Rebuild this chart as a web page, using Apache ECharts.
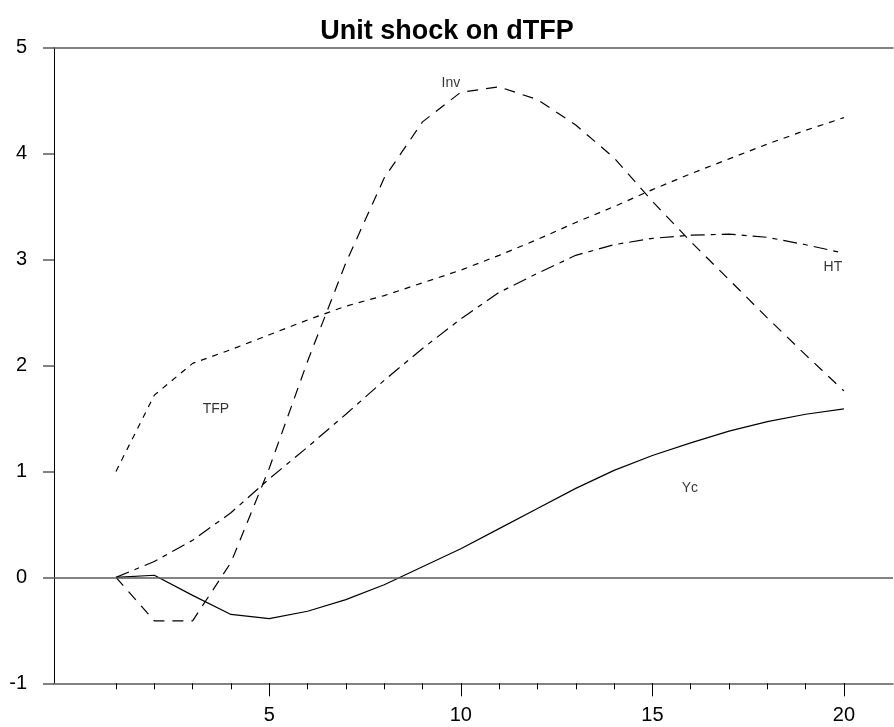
<!DOCTYPE html>
<html>
<head>
<meta charset="utf-8">
<script src="https://cdn.jsdelivr.net/npm/echarts@6/dist/echarts.min.js"></script>
<style>html,body{margin:0;padding:0;background:#fff}#c{width:894px;height:727px}</style>
</head>
<body>
<div id="c"></div>
<script>
// Horizon (periods)
var periods = [1,2,3,4,5,6,7,8,9,10,11,12,13,14,15,16,17,18,19,20];
// Responses
var tfp = [1.00,1.72,2.02,2.15,2.29,2.43,2.56,2.66,2.78,2.90,3.04,3.19,3.35,3.50,3.66,3.81,3.95,4.09,4.22,4.34];
var inv = [0.00,-0.41,-0.41,0.14,1.03,2.04,2.97,3.77,4.30,4.58,4.63,4.51,4.27,3.96,3.55,3.17,2.81,2.45,2.10,1.76];
var ht  = [0.00,0.15,0.35,0.61,0.93,1.23,1.54,1.86,2.16,2.44,2.69,2.87,3.04,3.14,3.20,3.23,3.24,3.21,3.14,3.06];
var yc  = [0.00,0.02,-0.17,-0.35,-0.39,-0.32,-0.21,-0.07,0.10,0.27,0.46,0.65,0.84,1.01,1.15,1.27,1.38,1.47,1.54,1.59];
// Series name labels and where they sit (data coordinates)
var labelNames = ['TFP','Inv','HT','Yc'];
var labelX = [3.61, 9.74, 19.71, 15.98];
var labelY = [1.59, 4.67, 2.93, 0.84];
// Axis ticks
var minorTicks = periods.slice();
var majorTicks = [5,10,15,20];
var yMin = -1, yMax = 5;

function pairs(vals){ return periods.map(function(p,i){ return [p, vals[i]]; }); }

var FONT = '"Liberation Sans", Arial, Helvetica, sans-serif';
var XMIN = -0.618, XMAX = 21.28;
var axisGrey = '#5a5a5a';

function lineSeries(name, vals, dash, extra){
  var s = {
    name: name, type: 'line', data: pairs(vals), symbol: 'none', silent: true,
    lineStyle: {color: '#000', width: 1.2, type: dash}, z: 3
  };
  if (extra) for (var k in extra) s[k] = extra[k];
  return s;
}

var chart = echarts.init(document.getElementById('c'), null, {renderer: 'canvas'});
chart.setOption({
  animation: false,
  backgroundColor: '#fff',
  title: {
    text: 'Unit shock on dTFP', left: 'center', top: 13,
    textStyle: {fontFamily: FONT, fontSize: 27, fontWeight: 'bold', color: '#000'}
  },
  grid: {left: 54, right: 1, top: 47.7, bottom: 43.7},
  xAxis: [
    {type: 'value', min: XMIN, max: XMAX, position: 'bottom',
     axisLine: {show: true, onZero: false, lineStyle: {color: axisGrey, width: 1.5}},
     axisTick: {show: true, customValues: minorTicks, length: 6, lineStyle: {color: '#000', width: 1}},
     axisLabel: {show: false}, splitLine: {show: false}},
    {type: 'value', min: XMIN, max: XMAX, position: 'bottom',
     axisLine: {show: false, onZero: false},
     axisTick: {show: true, customValues: majorTicks, length: 13, lineStyle: {color: '#000', width: 1}},
     axisLabel: {show: true, customValues: majorTicks, margin: 22, fontSize: 20, fontFamily: FONT, color: '#000'},
     splitLine: {show: false}},
    {type: 'value', min: XMIN, max: XMAX, position: 'top',
     axisLine: {show: true, onZero: false, lineStyle: {color: axisGrey, width: 1.5}},
     axisTick: {show: false}, axisLabel: {show: false}, splitLine: {show: false}}
  ],
  yAxis: {
    type: 'value', min: yMin, max: yMax, interval: 1,
    axisLine: {show: true, onZero: false, lineStyle: {color: '#000', width: 1}},
    axisTick: {show: true, length: 11, lineStyle: {color: axisGrey, width: 1.5}},
    axisLabel: {show: true, margin: 27, fontSize: 20, fontFamily: FONT, color: '#000'},
    splitLine: {show: false}
  },
  series: [
    lineSeries('Yc', yc, 'solid', {
      markLine: {silent: true, symbol: 'none', label: {show: false},
        lineStyle: {color: axisGrey, width: 1.5, type: 'solid'}, data: [{yAxis: 0}]}
    }),
    lineSeries('TFP', tfp, [6, 6]),
    lineSeries('Inv', inv, [11, 8]),
    lineSeries('HT', ht, [14, 6, 5, 6]),
    {
      type: 'scatter', silent: true, symbolSize: 0, z: 4,
      data: labelNames.map(function(n,i){ return {name: n, value: [labelX[i], labelY[i]]}; }),
      label: {show: true, position: 'inside', formatter: '{b}', fontSize: 14, fontFamily: FONT, color: '#000'}
    }
  ]
});
</script>
</body>
</html>
